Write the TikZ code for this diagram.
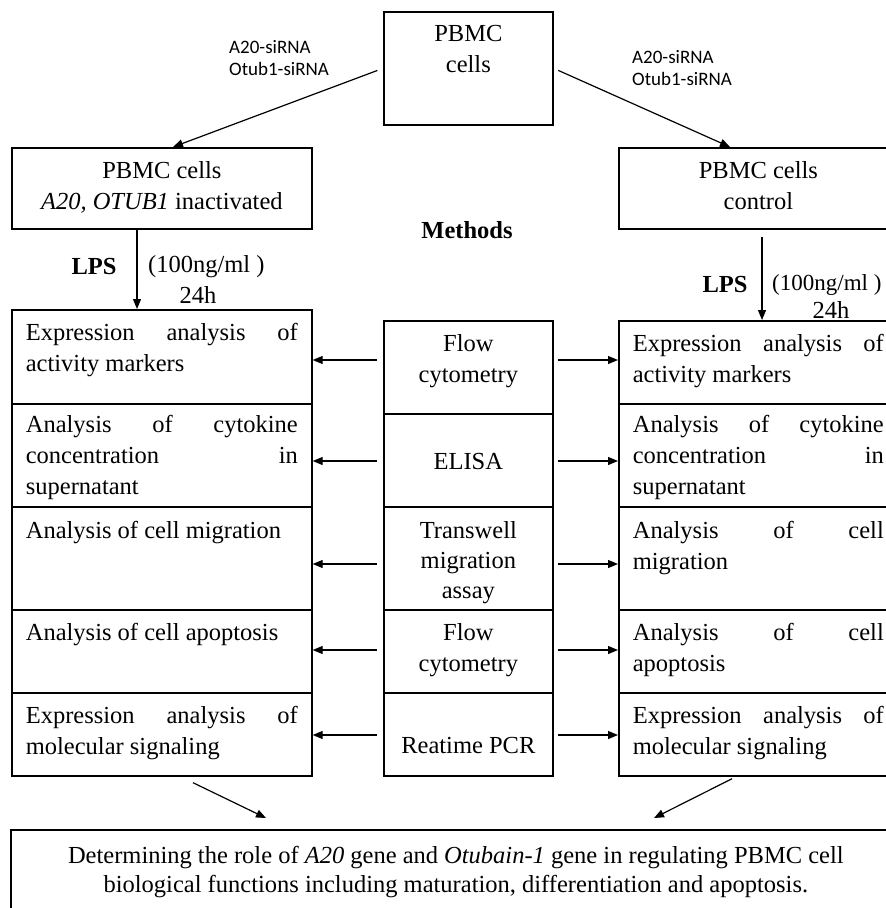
\documentclass[tikz,border=0pt]{standalone}
\usepackage{fontspec}
\setmainfont{Liberation Serif}
\newfontfamily\lblfont{Carlito}
\usetikzlibrary{arrows.meta,calc}
\newcommand\cellL[4]{\parbox[b][#1pt][t]{#2pt}{\rule{0pt}{#3pt}#4}}
\newcommand\cellC[4]{\parbox[b][#1pt][t]{#2pt}{\centering\rule{0pt}{#3pt}#4}}
\newcommand\jl[1]{\makebox[\linewidth][s]{#1}}
\tikzset{
  cell/.style={draw=black, line width=1.7pt, inner xsep=14pt, inner ysep=0pt, anchor=north west, font=\fontsize{24.5}{31}\selectfont},
  arr/.style={-{Triangle[length=10pt,width=8pt]}, line width=1.2pt},
  lbl/.style={font=\lblfont\fontsize{19}{22}\selectfont, align=left, inner sep=0pt},
  txt/.style={font=\fontsize{24.5}{31}\selectfont, inner sep=0pt},
  btxt/.style={font=\fontsize{24.5}{31}\selectfont\bfseries, inner sep=0pt},
}
\begin{document}
\begin{tikzpicture}[x=1pt,y=-1pt]
\useasboundingbox (0,0) rectangle (886,908);
\clip (0,0) rectangle (886,908);
% top boxes
\node[cell] (top) at (383,11) {\cellC{113}{141}{30}{PBMC\\cells}};
\node[cell] (L0) at (11,147) {\cellC{81}{272}{31}{PBMC cells\\\textit{A20, OTUB1} inactivated}};
\node[cell] (R0) at (618,147) {\cellC{81}{251}{31}{PBMC cells\\control}};
% labels
\node[lbl, anchor=west] (s1) at (229,58) {A20-siRNA\\Otub1-siRNA};
\node[lbl, anchor=west] (s2) at (632,68) {A20-siRNA\\Otub1-siRNA};
\node[btxt] (meth) at (467,230) {Methods};
\node[btxt] (lpsL) at (94,267) {LPS};
\node[txt, anchor=west] (concL) at (148,267) {(100ng/ml )};
\node[txt] (hL) at (198,295) {24h};
\node[btxt] (lpsR) at (725,285) {LPS};
\node[txt, anchor=west, font=\fontsize{23}{31}\selectfont] (concR) at (772,285) {(100ng/ml )};
\node[txt] (hR) at (831,310) {24h};
% left column
\node[cell] (L1) at (11,309) {\cellL{94}{272}{31}{\jl{Expression analysis of}\\activity markers}};
\node[cell] (L2) at (11,403) {\cellL{103}{272}{29}{\jl{Analysis of cytokine}\\\jl{concentration in}\\supernatant}};
\node[cell] (L3) at (11,506) {\cellL{103}{272}{32}{Analysis of cell migration}};
\node[cell] (L4) at (11,609) {\cellL{83}{272}{31}{Analysis of cell apoptosis}};
\node[cell] (L5) at (11,692) {\cellL{83}{272}{31}{\jl{Expression analysis of}\\molecular signaling}};
% middle column
\node[cell] (M1) at (383,320) {\cellC{93}{141}{31}{Flow\\cytometry}};
\node[cell] (M2) at (383,413) {\cellC{93}{141}{56}{ELISA}};
\node[cell, font=\fontsize{24.5}{30}\selectfont] (M3) at (383,506) {\cellC{103}{141}{32}{Transwell\\migration\\assay}};
\node[cell] (M4) at (383,609) {\cellC{83}{141}{31}{Flow\\cytometry}};
\node[cell] (M5) at (383,692) {\cellC{83}{141}{61}{Reatime PCR}};
% right column
\node[cell] (R1) at (618,320) {\cellL{83}{251}{31}{\jl{Expression analysis of}\\activity markers}};
\node[cell] (R2) at (618,403) {\cellL{103}{251}{29}{\jl{Analysis of cytokine}\\\jl{concentration in}\\supernatant}};
\node[cell] (R3) at (618,506) {\cellL{103}{251}{32}{\jl{Analysis of cell}\\migration}};
\node[cell] (R4) at (618,609) {\cellL{83}{251}{31}{\jl{Analysis of cell}\\apoptosis}};
\node[cell] (R5) at (618,692) {\cellL{83}{251}{31}{\jl{Expression analysis of}\\molecular signaling}};
% bottom
\node[cell, font=\fontsize{24.5}{29}\selectfont] (bot) at (10,829) {\cellC{110}{862}{34}{Determining the role of \textit{A20} gene and \textit{Otubain-1} gene in regulating PBMC cell\\biological functions including maturation, differentiation and apoptosis.}};
% arrows top
\draw[arr, shorten <=6pt] (top.west) -- ($(L0.north west)+(162,0)$);
\draw[arr, shorten <=5pt] (top.east) -- ($(R0.north west)+(112,0)$);
\draw[arr] ($(L0.south west)+(126,0)$) -- ($(L1.north west)+(126,0)$);
\draw[arr] ($(R0.south west)+(144,7)$) -- ($(R1.north west)+(144,0)$);
% horizontal arrows
\coordinate (y1) at (0,360);
\coordinate (y2) at (0,461);
\coordinate (y3) at (0,564);
\coordinate (y4) at (0,650);
\coordinate (y5) at (0,735);
\foreach \i in {1,...,5}{
  \draw[arr, shorten <=6pt] (M\i.west |- y\i) -- (L\i.east |- y\i);
  \draw[arr, shorten <=4pt] (M\i.east |- y\i) -- (R\i.west |- y\i);
}
% bottom arrows
\draw[arr] ($(L5.south west)+(182,6)$) -- ($(bot.north west)+(256,-11)$);
\draw[arr] ($(R5.south west)+(114,2)$) -- ($(bot.north west)+(644,-11)$);
\end{tikzpicture}
\end{document}
